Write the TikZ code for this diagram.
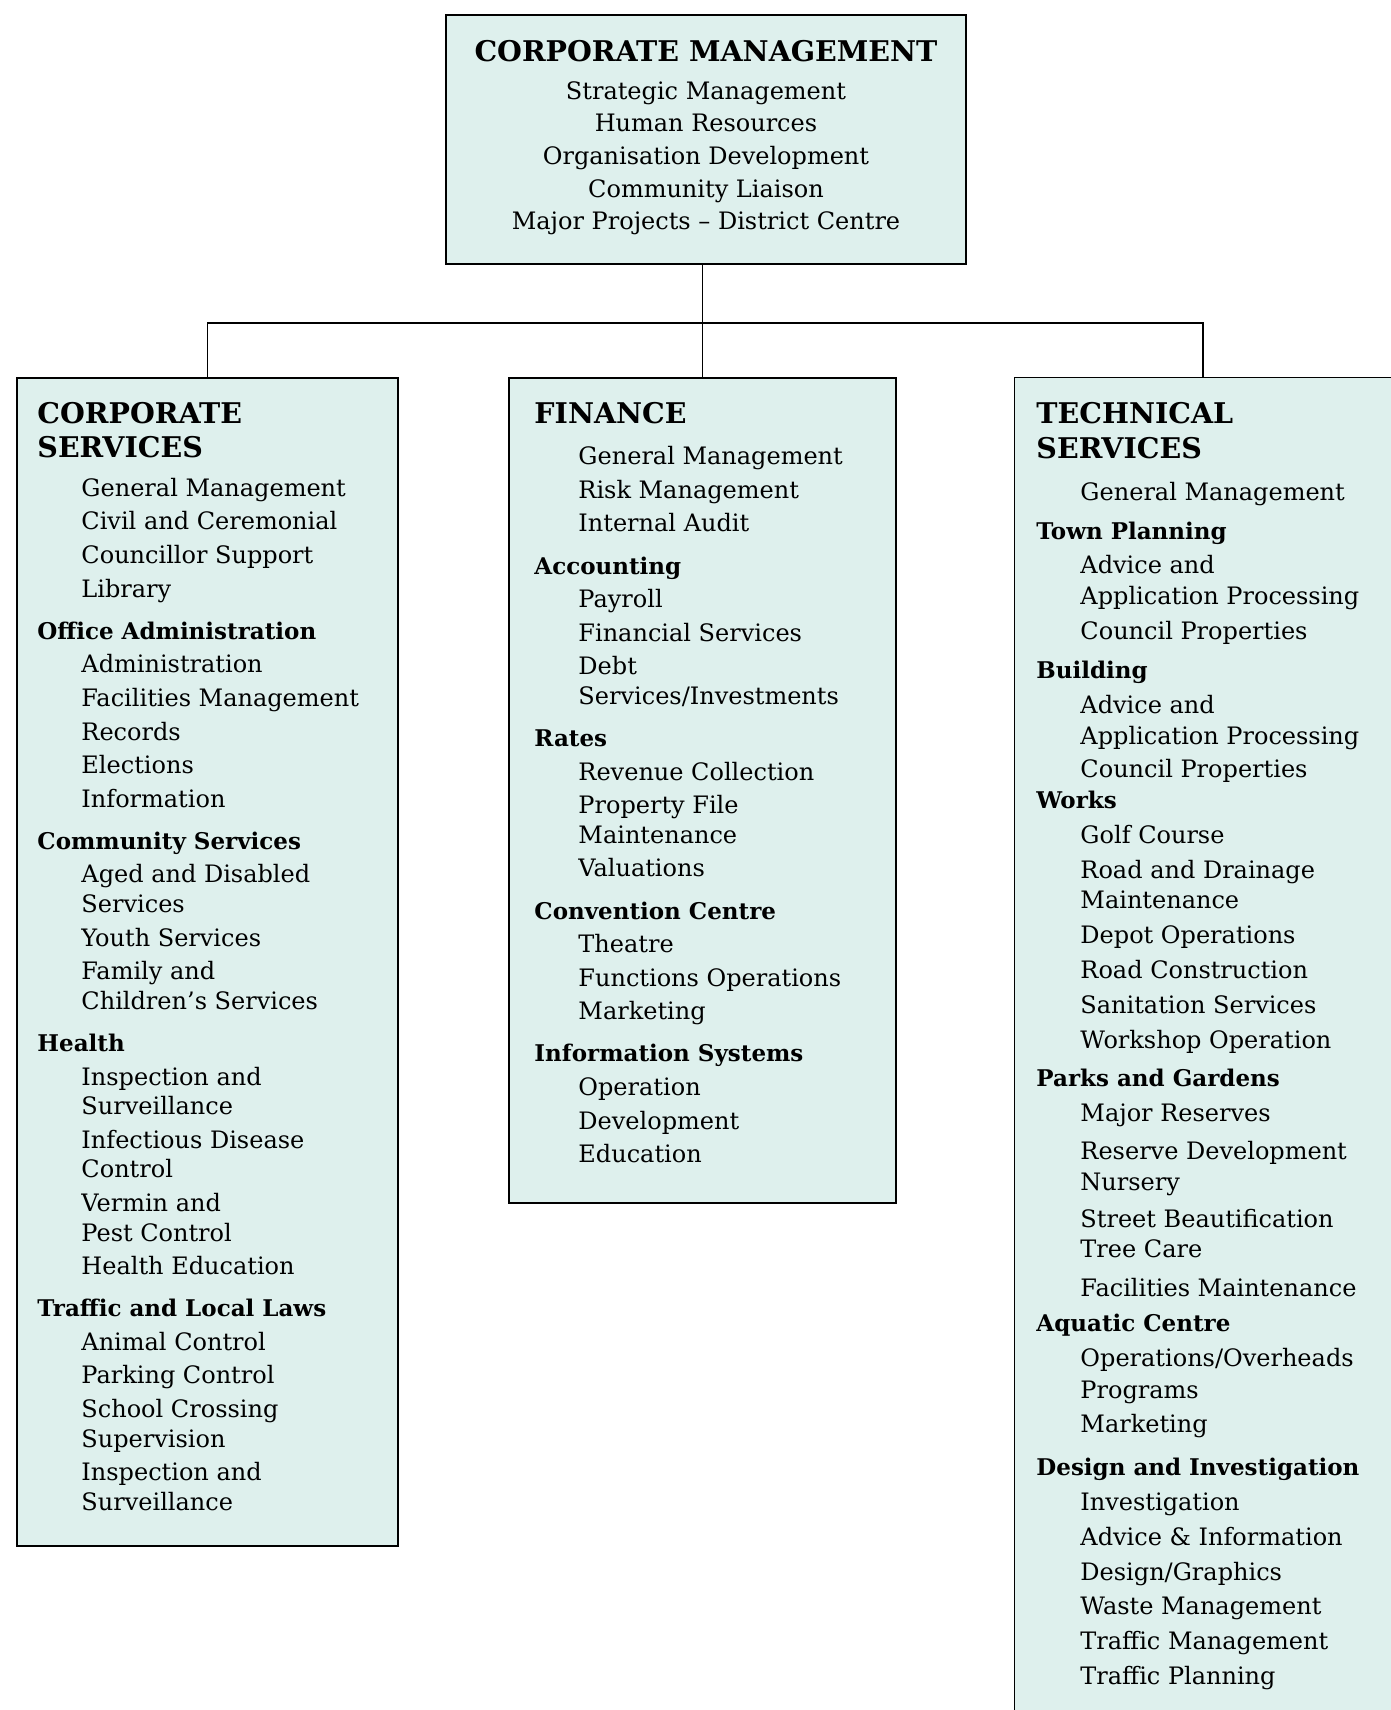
\documentclass[tikz,border=0pt]{standalone}
\usepackage{fontspec}
\setmainfont{DejaVu Serif}
\usetikzlibrary{calc}

\definecolor{boxfill}{RGB}{222,240,237}

\newcommand{\ttl}[1]{{\fontsize{28.5}{33.6}\selectfont\bfseries #1}}
\newcommand{\hd}[1]{{\fontsize{23}{33.6}\selectfont\bfseries #1}}
\newcommand{\en}[1]{\hspace*{44pt}#1}

\begin{document}
\begin{tikzpicture}[x=1pt,y=-1pt,
	unit box/.style={rectangle,fill=boxfill,draw=black,line width=1.5pt,inner sep=0pt},
	unit text/.style={anchor=north west,align=left,inner sep=0pt,
		font=\fontsize{24}{33.6}\selectfont},
	link/.style={line width=1.5pt}]
	
	\useasboundingbox (0,0) rectangle (1391,1710);
	
	\node[unit box,minimum width=520pt,minimum height=249pt] (cm) at (706,139.5) {};
	\node[unit box,minimum width=381pt,minimum height=1168pt] (cs) at (207.5,962) {};
	\node[unit box,minimum width=387pt,minimum height=825pt] (fin) at (702.5,790.5) {};
	\node[unit box,draw=none,minimum width=376pt,minimum height=1332pt] (ts) at (1203,1044) {};
	\draw[link] (ts.south west) -- (ts.north west) -- (ts.north east);
	
	\coordinate (bus) at (700,323);
	\draw[link] (cm.south -| fin.north) -- (fin.north);
	\draw[link] (cs.north) |- (bus) -| (ts.north);
	
	\node[anchor=north,align=center,inner sep=0pt,font=\fontsize{24}{32.6}\selectfont]
		(cmtext) at ([shift={(0,26)}]cm.north) {%
		\ttl{CORPORATE MANAGEMENT}\\[5pt]
		Strategic Management\\
		Human Resources\\
		Organisation Development\\
		Community Liaison\\
		Major Projects -- District Centre};
	
	\node[unit text] (cstext) at ([shift={(21,25)}]cs.north west) {%
		\ttl{CORPORATE}\\
		\ttl{SERVICES}\\[5.5pt]
		\en{General Management}\\
		\en{Civil and Ceremonial}\\
		\en{Councillor Support}\\
		\en{Library}\\[8.5pt]
		\hd{Office Administration}\\
		\en{Administration}\\
		\en{Facilities Management}\\
		\en{Records}\\
		\en{Elections}\\
		\en{Information}\\[8.5pt]
		\hd{Community Services}\\
		\en{Aged and Disabled}\\[-4pt]
		\en{Services}\\
		\en{Youth Services}\\
		\en{Family and}\\[-4pt]
		\en{Children's Services}\\[8.5pt]
		\hd{Health}\\
		\en{Inspection and}\\[-4pt]
		\en{Surveillance}\\
		\en{Infectious Disease}\\[-4pt]
		\en{Control}\\
		\en{Vermin and}\\[-4pt]
		\en{Pest Control}\\
		\en{Health Education}\\[8.5pt]
		\hd{Traffic and Local Laws}\\
		\en{Animal Control}\\
		\en{Parking Control}\\
		\en{School Crossing}\\[-4pt]
		\en{Supervision}\\
		\en{Inspection and}\\[-4pt]
		\en{Surveillance}};
	
	\node[unit text] (fintext) at ([shift={(26,25)}]fin.north west) {%
		\ttl{FINANCE}\\[7.5pt]
		\en{General Management}\\
		\en{Risk Management}\\
		\en{Internal Audit}\\[8.5pt]
		\hd{Accounting}\\
		\en{Payroll}\\
		\en{Financial Services}\\
		\en{Debt}\\[-4pt]
		\en{Services/Investments}\\[8.5pt]
		\hd{Rates}\\
		\en{Revenue Collection}\\
		\en{Property File}\\[-4pt]
		\en{Maintenance}\\
		\en{Valuations}\\[8.5pt]
		\hd{Convention Centre}\\
		\en{Theatre}\\
		\en{Functions Operations}\\
		\en{Marketing}\\[8.5pt]
		\hd{Information Systems}\\
		\en{Operation}\\
		\en{Development}\\
		\en{Education}};
	
	\node[unit text,font=\fontsize{24}{34.8}\selectfont] (tstext) at ([shift={(22,25)}]ts.north west) {%
		\ttl{TECHNICAL}\\
		\ttl{SERVICES}\\[7pt]
		\en{General Management}\\[4pt]
		\hd{Town Planning}\\
		\en{Advice and}\\[-4pt]
		\en{Application Processing}\\
		\en{Council Properties}\\[4pt]
		\hd{Building}\\
		\en{Advice and}\\[-3pt]
		\en{Application Processing}\\[-2pt]
		\en{Council Properties}\\[-4pt]
		\hd{Works}\\
		\en{Golf Course}\\
		\en{Road and Drainage}\\[-4pt]
		\en{Maintenance}\\
		\en{Depot Operations}\\
		\en{Road Construction}\\
		\en{Sanitation Services}\\
		\en{Workshop Operation}\\[4pt]
		\hd{Parks and Gardens}\\
		\en{Major Reserves}\\[3pt]
		\en{Reserve Development}\\[-4pt]
		\en{Nursery}\\[2pt]
		\en{Street Beautification}\\[-4pt]
		\en{Tree Care}\\[4pt]
		\en{Facilities Maintenance}\\[0pt]
		\hd{Aquatic Centre}\\
		\en{Operations/Overheads}\\[-3pt]
		\en{Programs}\\
		\en{Marketing}\\[8pt]
		\hd{Design and Investigation}\\
		\en{Investigation}\\
		\en{Advice \& Information}\\
		\en{Design/Graphics}\\
		\en{Waste Management}\\
		\en{Traffic Management}\\
		\en{Traffic Planning}};
\end{tikzpicture}
\end{document}
